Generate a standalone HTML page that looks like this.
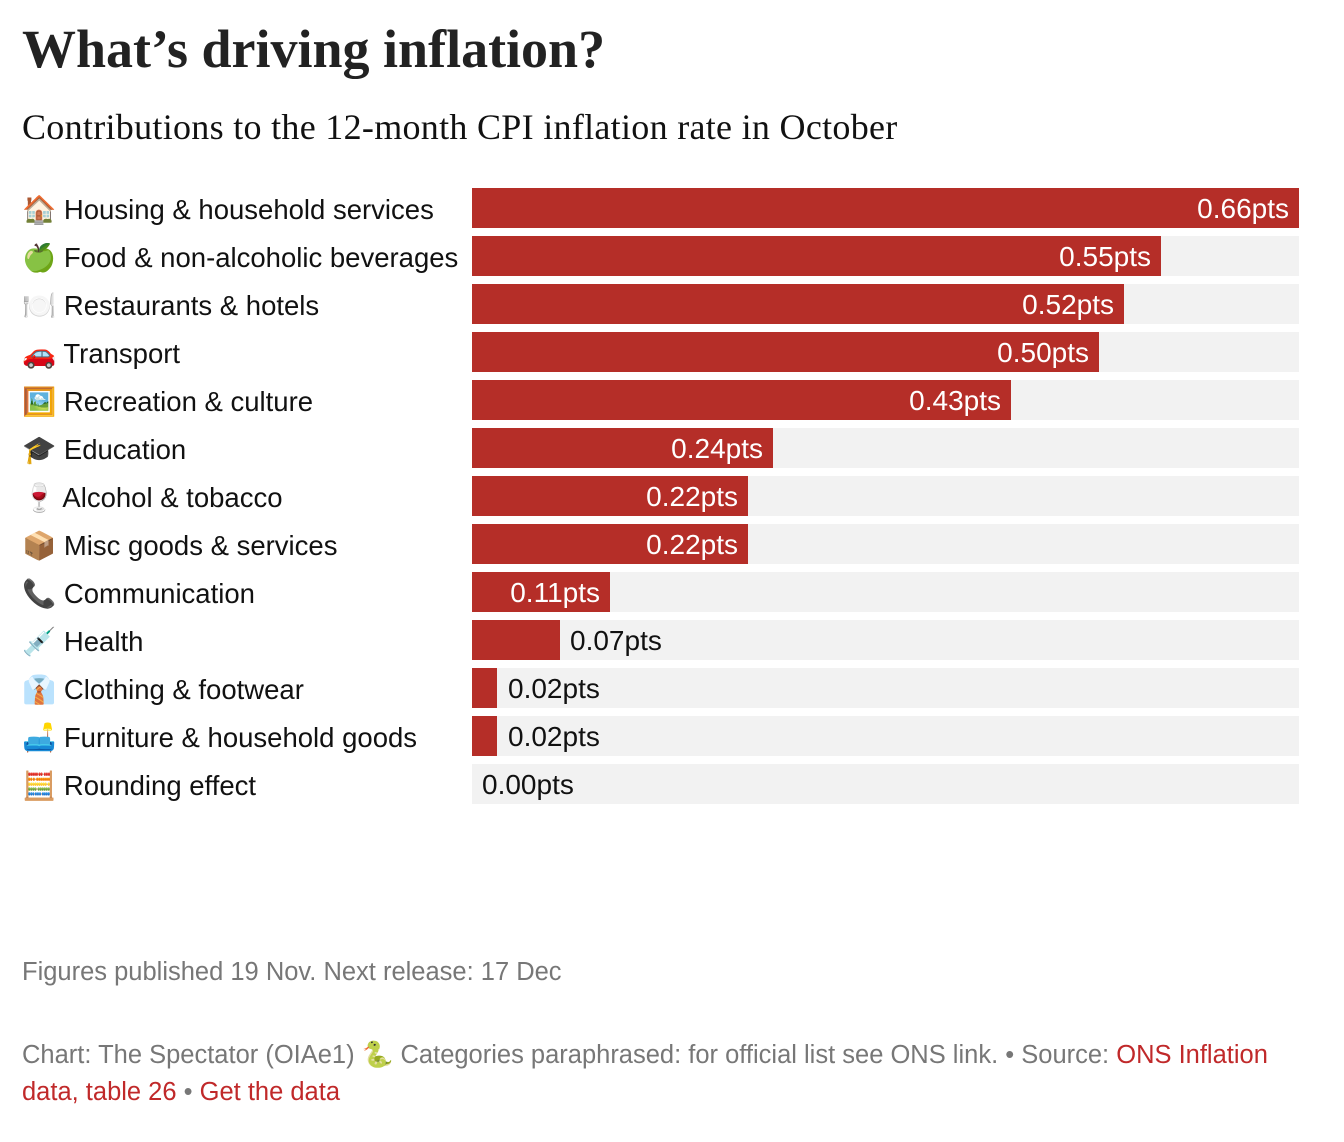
<!DOCTYPE html>
<html><head><meta charset="utf-8"><style>
body{margin:0;width:1344px;height:1142px;background:#fff;position:relative;font-family:"Liberation Sans",sans-serif;overflow:hidden}
.t{position:absolute;left:22px;top:18px;font-family:"Liberation Serif",serif;font-weight:bold;font-size:54px;color:#222;letter-spacing:0px}
.s{position:absolute;left:22px;top:106px;font-family:"Liberation Serif",serif;font-size:36px;color:#111;letter-spacing:0.3px}
.row{position:absolute;left:0;height:40px;width:1344px}
.lab{position:absolute;left:22px;top:5px;font-size:27.5px;color:#111;white-space:nowrap}
.bg{position:absolute;left:472px;width:827px;height:40px;background:#f2f2f2;top:0}
.bar{position:absolute;left:472px;height:40px;background:#b52e28;top:0}
.v{position:absolute;top:5px;font-size:28px;white-space:nowrap}
.in{color:#fff;text-align:right}
.f{position:absolute;left:22px;font-size:25.5px;color:#777}
.r{color:#c0292a}
</style></head><body>
<div class="t">What’s driving inflation?</div>
<div class="s">Contributions to the 12-month CPI inflation rate in October</div>

<div class="row" style="top:188px"><div class="lab">🏠 Housing &amp; household services</div><div class="bg"></div><div class="bar" style="width:827px"></div><div class="v in" style="right:55px">0.66pts</div></div>
<div class="row" style="top:236px"><div class="lab">🍏 Food &amp; non-alcoholic beverages</div><div class="bg"></div><div class="bar" style="width:689px"></div><div class="v in" style="right:193px">0.55pts</div></div>
<div class="row" style="top:284px"><div class="lab">🍽️ Restaurants &amp; hotels</div><div class="bg"></div><div class="bar" style="width:652px"></div><div class="v in" style="right:230px">0.52pts</div></div>
<div class="row" style="top:332px"><div class="lab">🚗 Transport</div><div class="bg"></div><div class="bar" style="width:627px"></div><div class="v in" style="right:255px">0.50pts</div></div>
<div class="row" style="top:380px"><div class="lab">🖼️ Recreation &amp; culture</div><div class="bg"></div><div class="bar" style="width:539px"></div><div class="v in" style="right:343px">0.43pts</div></div>
<div class="row" style="top:428px"><div class="lab">🎓 Education</div><div class="bg"></div><div class="bar" style="width:301px"></div><div class="v in" style="right:581px">0.24pts</div></div>
<div class="row" style="top:476px"><div class="lab">🍷 Alcohol &amp; tobacco</div><div class="bg"></div><div class="bar" style="width:276px"></div><div class="v in" style="right:606px">0.22pts</div></div>
<div class="row" style="top:524px"><div class="lab">📦 Misc goods &amp; services</div><div class="bg"></div><div class="bar" style="width:276px"></div><div class="v in" style="right:606px">0.22pts</div></div>
<div class="row" style="top:572px"><div class="lab">📞 Communication</div><div class="bg"></div><div class="bar" style="width:138px"></div><div class="v in" style="right:744px">0.11pts</div></div>
<div class="row" style="top:620px"><div class="lab">💉 Health</div><div class="bg"></div><div class="bar" style="width:88px"></div><div class="v" style="left:570px;color:#111">0.07pts</div></div>
<div class="row" style="top:668px"><div class="lab">👔 Clothing &amp; footwear</div><div class="bg"></div><div class="bar" style="width:25px"></div><div class="v" style="left:508px;color:#111">0.02pts</div></div>
<div class="row" style="top:716px"><div class="lab">🛋️ Furniture &amp; household goods</div><div class="bg"></div><div class="bar" style="width:25px"></div><div class="v" style="left:508px;color:#111">0.02pts</div></div>
<div class="row" style="top:764px"><div class="lab">🧮 Rounding effect</div><div class="bg"></div><div class="v" style="left:482px;color:#111">0.00pts</div></div>

<div class="f" style="top:958px">Figures published 19 Nov. Next release: 17 Dec</div>
<div class="f" style="top:1037px;line-height:37px;width:1290px">Chart: The Spectator (OIAe1) 🐍 Categories paraphrased: for official list see ONS link. • Source: <span class="r">ONS Inflation data, table 26</span> • <span class="r">Get the data</span></div>
</body></html>
